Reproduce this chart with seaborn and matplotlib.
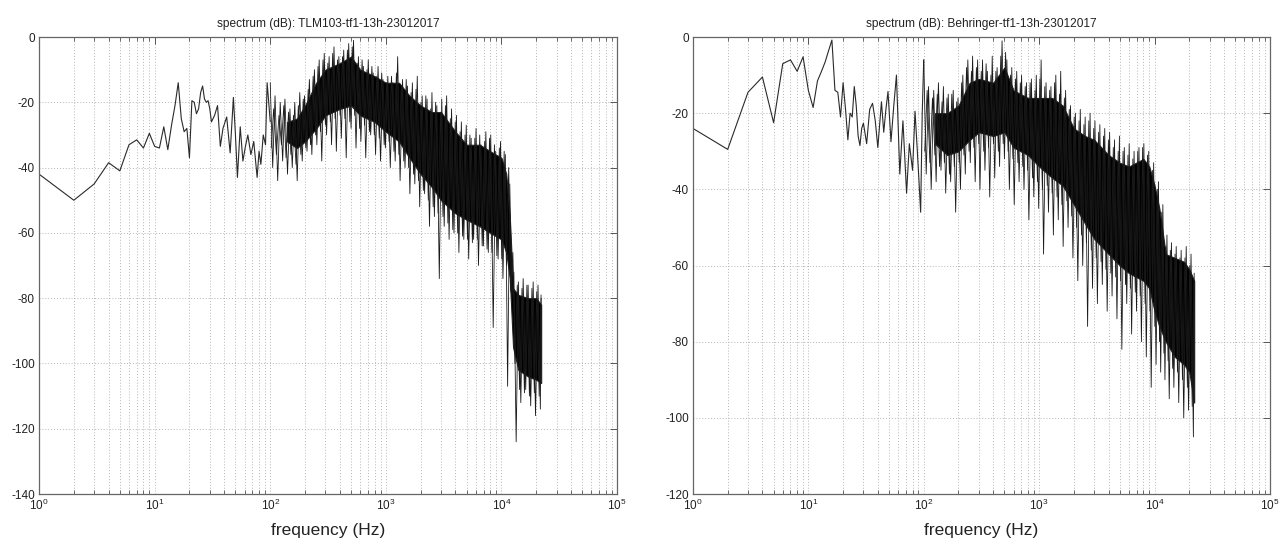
import numpy as np
import pandas as pd
import matplotlib
matplotlib.use("Agg")
import matplotlib.pyplot as plt
import seaborn as sns
from matplotlib.ticker import LogLocator, NullFormatter

# ---------------- data ----------------
titles = ["spectrum (dB): TLM103-tf1-13h-23012017",
          "spectrum (dB): Behringer-tf1-13h-23012017"]
xlabel = "frequency (Hz)"

# Left chart: low-frequency line (Hz, dB)
L_lf_freq = [1, 2, 3, 4, 5, 6, 7, 8, 9, 10, 11, 12, 13, 14, 15, 16, 17, 18, 19, 20,
             21, 22, 23, 24, 25, 26, 27, 28, 29, 30, 31, 33, 35, 37, 39, 42, 45, 48,
             50, 52, 55, 58, 61, 64, 68, 72, 77, 80, 83, 87, 91, 94, 97, 100]
L_lf_db = [-42, -50, -45, -38.5, -41, -33, -31.5, -34, -29.5, -33.5, -34, -27.5, -34.5,
           -27, -21, -14, -25, -29, -28, -37, -19.5, -20, -23.5, -22, -17, -15, -19, -20,
           -19.5, -22, -26, -24, -21, -33.5, -28, -24.5, -35.5, -18.5, -30, -43, -27.5,
           -38, -33.5, -30, -36, -32, -43, -35, -39, -30, -33, -14, -20, -26]
# Left chart: dense core band
L_band_freq = [140, 170, 200, 250, 300, 400, 500, 600, 800, 1000, 1300, 1600, 2000,
               2500, 3000, 4000, 5000, 6500, 8000, 10000, 11000, 11800, 12600, 14000,
               17000, 20000, 22050]
L_band_hi = [-26, -25, -21, -14, -10, -8, -6, -10, -12, -14, -14, -18, -21, -23, -23,
             -29, -33, -33, -35, -37, -42, -55, -77, -79, -80, -80, -82]
L_band_lo = [-32, -34, -32, -28, -24, -22, -21, -24, -26, -29, -32, -37, -42, -46,
             -50, -54, -56, -58, -60, -62, -66, -74, -95, -102, -104, -105, -106]

# Spike tips, shared frequency grids (alternating top / bottom)
tip_freq = [100, 105, 110, 116, 122, 128, 134, 141, 148, 155,
            163, 171, 180, 189, 198, 208, 218, 229, 241, 253,
            265, 279, 293, 307, 323, 339, 356, 373, 392, 412,
            432, 454, 477, 500, 525, 552, 579, 608, 639, 670,
            704, 739, 776, 815, 856, 899, 944, 991, 1040, 1092,
            1147, 1204, 1265, 1328, 1394, 1464, 1537, 1614, 1695, 1780,
            1869, 1962, 2060, 2163, 2271, 2385, 2504, 2629, 2761, 2899,
            3044, 3196, 3356, 3524, 3700, 3885, 4079, 4283, 4497, 4722,
            4958, 5206, 5466, 5740, 6027, 6328, 6644, 6977, 7326, 7692,
            8077, 8481, 8905, 9350, 9817, 10300, 10800, 11300, 11800, 12300,
            12800, 13400, 14000, 14700, 15400, 16200, 17000, 17900, 18800, 19700,
            20700, 21700, 22050]
tip2_freq = [102, 107, 113, 119, 125, 131, 137, 144, 151, 159,
             167, 175, 184, 193, 203, 213, 223, 235, 247, 259,
             272, 286, 300, 315, 331, 347, 364, 382, 402, 422,
             443, 465, 488, 512, 538, 565, 593, 623, 654, 687,
             721, 757, 795, 835, 877, 921, 967, 1015, 1066, 1119,
             1175, 1234, 1296, 1361, 1429, 1500, 1575, 1654, 1737, 1824,
             1915, 2011, 2111, 2217, 2328, 2444, 2566, 2695, 2830, 2971,
             3120, 3276, 3440, 3612, 3792, 3982, 4181, 4390, 4609, 4840,
             5082, 5336, 5603, 5883, 6177, 6486, 6810, 7151, 7509, 7884,
             8278, 8692, 9127, 9583, 10060, 10550, 11050, 11550, 12050, 12550,
             13100, 13700, 14350, 15050, 15800, 16600, 17450, 18350, 19250, 20200,
             21200, 22000]

L_tip_db = [-14, -40, -18, -44, -20, -38, -19, -42, -22, -40,
            -20, -44, -17, -38, -18, -35, -13, -36, -10, -33,
            -7, -38, -5, -30, -6, -33, -3, -35, -6, -31,
            -4, -37, -2, -28, -1, -34, -6, -32, -9, -37,
            -7, -30, -11, -36, -9, -38, -13, -34, -12, -40,
            -14, -38, -6, -44, -13, -40, -15, -48, -14, -45,
            -12, -52, -18, -48, -19, -58, -17, -55, -21, -74,
            -19, -58, -18, -62, -22, -60, -24, -66, -26, -62,
            -27, -68, -31, -62, -28, -70, -33, -64, -29, -66,
            -30, -89, -35, -68, -32, -74, -36, -107, -45, -80,
            -72, -124, -75, -112, -74, -108, -76, -113, -75, -116,
            -76, -114, -80]
L_tip2_db = [-34, -22, -36, -24, -33, -21, -37, -23, -36, -24,
             -39, -21, -36, -19, -34, -16, -33, -12, -30, -9,
             -29, -7, -27, -8, -26, -5, -25, -7, -24, -6,
             -25, -4, -26, -3, -24, -8, -28, -7, -27, -10,
             -29, -9, -30, -12, -31, -11, -33, -14, -32, -12,
             -35, -11, -36, -15, -38, -13, -40, -17, -42, -16,
             -44, -20, -47, -18, -50, -22, -52, -20, -54, -23,
             -55, -21, -57, -25, -59, -26, -60, -29, -61, -30,
             -62, -30, -63, -31, -62, -30, -64, -32, -65, -31,
             -66, -33, -67, -34, -68, -35, -70, -40, -78, -66,
             -100, -76, -108, -77, -109, -76, -110, -77, -109, -78,
             -110, -79]

# Right chart: low-frequency line (Hz, dB)
R_lf_freq = [1, 2, 3, 4, 5, 6, 7, 8, 9, 10, 11, 12, 13, 14, 15, 16, 17, 18, 19, 20,
             21, 22, 23, 24, 25, 26, 27, 28, 29, 30, 32, 34, 36, 38, 40, 43, 45, 47, 49,
             52, 55, 58, 62, 66, 71, 75, 80, 84, 88, 91, 94, 97, 100]
R_lf_db = [-24, -29.5, -14.5, -10.5, -22.5, -7, -6, -9, -5.2, -14, -18.5, -11.5, -9,
           -6.5, -3.5, -0.8, -14, -14.5, -21, -12, -19, -27, -20, -21, -13, -18, -26,
           -28.5, -24, -22.6, -28, -19, -17.4, -22, -29, -17, -25, -19, -14.3, -27.5,
           -18, -10, -36, -22, -41, -28, -35, -19.5, -30, -38, -46, -20, -6]
# Right chart: dense core band
R_band_freq = [125, 160, 200, 250, 300, 400, 500, 600, 800, 1000, 1300, 1600, 2000,
               2500, 3000, 4000, 5000, 6000, 8000, 9000, 10000, 11000, 12500, 15000,
               18000, 20000, 22050]
R_band_hi = [-20, -20, -18, -12, -11, -12, -8, -14, -16, -16, -16, -18, -24, -26, -27,
             -31, -33, -34, -32, -34, -39, -45, -57, -58, -59, -61, -64]
R_band_lo = [-28, -31, -30, -27, -25, -26, -25, -29, -31, -34, -37, -39, -44, -49,
             -53, -57, -60, -62, -64, -66, -72, -76, -80, -84, -86, -88, -96]
R_tip_db = [-6, -36, -13, -40, -14, -38, -12, -35, -13, -41,
            -15, -38, -14, -46, -16, -40, -10, -36, -6, -33,
            -5, -38, -6, -40, -6, -35, -9, -42, -5, -37,
            -8, -34, -1, -32, -6, -40, -8, -44, -9, -38,
            -10, -40, -12, -48, -11, -42, -10, -45, -6, -57,
            -12, -46, -13, -52, -10, -48, -9, -55, -14, -50,
            -18, -58, -20, -64, -19, -60, -21, -76, -20, -66,
            -22, -70, -23, -65, -24, -72, -25, -68, -27, -74,
            -26, -82, -29, -70, -28, -78, -30, -72, -29, -80,
            -28, -84, -30, -92, -33, -86, -38, -88, -44, -90,
            -52, -95, -54, -92, -55, -96, -56, -100, -55, -98,
            -57, -105, -62]
R_tip2_db = [-30, -14, -33, -16, -31, -15, -34, -17, -33, -16,
             -36, -15, -34, -17, -33, -12, -31, -8, -30, -9,
             -29, -8, -28, -9, -30, -7, -29, -10, -28, -9,
             -30, -5, -28, -4, -30, -10, -32, -11, -33, -12,
             -34, -13, -35, -12, -37, -14, -38, -11, -40, -13,
             -39, -14, -41, -12, -42, -15, -44, -16, -43, -19,
             -47, -21, -50, -22, -52, -23, -54, -22, -56, -24,
             -58, -25, -59, -26, -61, -27, -62, -29, -63, -30,
             -64, -30, -65, -31, -66, -32, -67, -30, -68, -29,
             -70, -31, -72, -35, -76, -40, -80, -46, -83, -55,
             -85, -56, -87, -57, -88, -58, -90, -58, -92, -60,
             -97, -64]

ylims = [(-140, 0), (-120, 0)]

# ---------------- style ----------------
sns.set_theme(style="white")
plt.rcParams["font.family"] = ["Liberation Sans", "DejaVu Sans"]
plt.rcParams["axes.unicode_minus"] = False
plt.rcParams["mathtext.default"] = "regular"

fig = plt.figure(figsize=(12.88, 5.43), dpi=100)
axL = fig.add_axes([0.0303, 0.0902, 0.4488, 0.8416])
axR = fig.add_axes([0.5380, 0.0902, 0.4480, 0.8416])

sets = [
    (axL, L_lf_freq, L_lf_db, L_band_freq, L_band_hi, L_band_lo, L_tip_db, L_tip2_db),
    (axR, R_lf_freq, R_lf_db, R_band_freq, R_band_hi, R_band_lo, R_tip_db, R_tip2_db),
]

for i, (ax, lf_f, lf_d, bf, bh, bl, td, td2) in enumerate(sets):
    ax.set_xscale("log")
    ax.set_xlim(1, 1e5)
    ax.set_ylim(*ylims[i])

    df_lf = pd.DataFrame({"f": lf_f, "db": lf_d})
    sns.lineplot(data=df_lf, x="f", y="db", ax=ax, color="#2a2a2a", lw=0.8,
                 estimator=None, sort=False)
    ax.fill_between(bf, bh, bl, color="black", lw=0.8, edgecolor="#222222", zorder=3)
    df_tip2 = pd.DataFrame({"f": tip2_freq, "db": td2})
    sns.lineplot(data=df_tip2, x="f", y="db", ax=ax, color="#1a1a1a", lw=0.6,
                 estimator=None, sort=False, zorder=4)
    df_tip = pd.DataFrame({"f": tip_freq, "db": td})
    sns.lineplot(data=df_tip, x="f", y="db", ax=ax, color="#1a1a1a", lw=0.6,
                 estimator=None, sort=False, zorder=4)

    ax.set_yticks(np.arange(ylims[i][0], 1, 20))
    ax.xaxis.set_major_locator(LogLocator(base=10, numticks=10))
    ax.xaxis.set_minor_locator(LogLocator(base=10, subs=np.arange(2, 10), numticks=20))
    ax.xaxis.set_minor_formatter(NullFormatter())
    ax.grid(True, which="major", axis="both", color="#b5b5b5", ls=(0, (1, 2)), lw=0.7)
    ax.grid(True, which="minor", axis="x", color="#b5b5b5", ls=(0, (1, 2)), lw=0.7)
    ax.tick_params(axis="both", which="major", direction="in", length=5, width=0.7,
                   top=True, right=True, labelsize=8.5, colors="#555555",
                   labelcolor="#222222", pad=3)
    ax.tick_params(axis="x", which="minor", direction="in", length=3, width=0.6,
                   top=True, bottom=True, colors="#555555")
    for sp in ax.spines.values():
        sp.set_color("#666666")
        sp.set_linewidth(0.9)
        sp.set_visible(True)
    ax.set_title(titles[i], fontsize=8.6, color="#222222", pad=7)
    ax.set_xlabel(xlabel, fontsize=12.5, color="#222222", labelpad=7)
    ax.set_ylabel("")

fig.savefig("out.png", dpi=100)
